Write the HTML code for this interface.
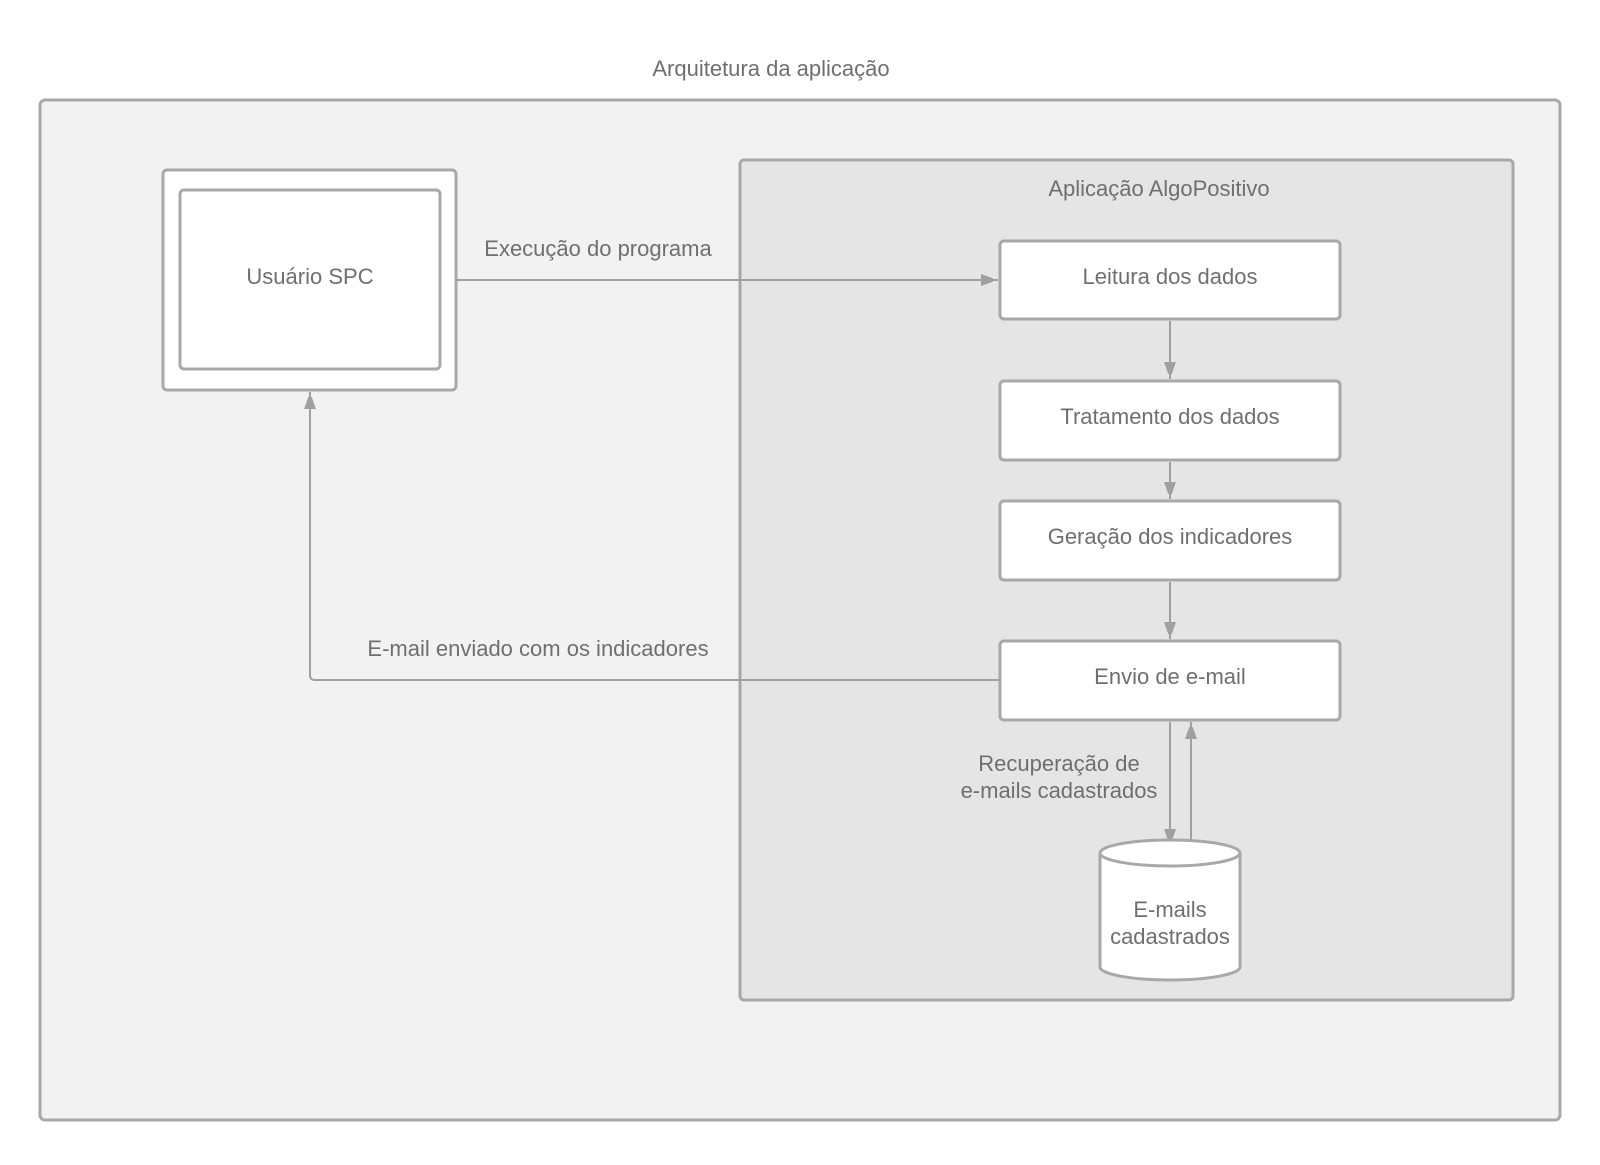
<!DOCTYPE html>
<html><head><meta charset="utf-8"><style>
html,body{margin:0;padding:0;background:#fff;}
svg text{font-family:"Liberation Sans",sans-serif;fill:#6f6f6f;font-size:22px;text-anchor:middle;}
</style></head><body>
<svg width="1600" height="1160" viewBox="0 0 1600 1160" xmlns="http://www.w3.org/2000/svg">
<defs>
<marker id="b" markerWidth="12" markerHeight="18" refX="17" refY="6" orient="auto" markerUnits="userSpaceOnUse"><path d="M0,0 L17,6 L0,12 z" fill="#a0a0a0"/></marker></defs>
<text x="771" y="76">Arquitetura da aplicação</text>
<rect x="40" y="100" width="1520" height="1020" rx="5" fill="#f2f2f2" stroke="#a8a8a8" stroke-width="3"/>
<rect x="740" y="160" width="773" height="840" rx="4" fill="#e5e5e5" stroke="#a8a8a8" stroke-width="3"/>
<text x="1159" y="196">Aplicação AlgoPositivo</text>
<rect x="163" y="170" width="293" height="220" rx="4" fill="#fff" stroke="#a8a8a8" stroke-width="3"/>
<rect x="180" y="190" width="260" height="179" rx="4" fill="#fff" stroke="#a8a8a8" stroke-width="3"/>
<text x="310" y="284">Usuário SPC</text>
<g fill="#fff" stroke="#a8a8a8" stroke-width="3">
<rect x="1000" y="241" width="340" height="78" rx="4"/>
<rect x="1000" y="381" width="340" height="79" rx="4"/>
<rect x="1000" y="501" width="340" height="79" rx="4"/>
<rect x="1000" y="641" width="340" height="79" rx="4"/>
</g>
<text x="1170" y="284">Leitura dos dados</text>
<text x="1170" y="424">Tratamento dos dados</text>
<text x="1170" y="544">Geração dos indicadores</text>
<text x="1170" y="684">Envio de e-mail</text>
<g stroke="#a0a0a0" stroke-width="2" fill="none">
<path d="M456 280 H998" marker-end="url(#b)"/>
<path d="M1000 680 H315 Q310 680 310 675 V392" marker-end="url(#b)"/>
<path d="M1170 321 V379" marker-end="url(#b)"/>
<path d="M1170 462 V499" marker-end="url(#b)"/>
<path d="M1170 582 V639" marker-end="url(#b)"/>
<path d="M1170 722 V846" marker-end="url(#b)"/>
<path d="M1191 840 V722" marker-end="url(#b)"/>
</g>
<text x="598" y="256">Execução do programa</text>
<text x="538" y="656">E-mail enviado com os indicadores</text>
<text x="1059" y="771">Recuperação de</text>
<text x="1059" y="798">e-mails cadastrados</text>
<path d="M1100 853 V967 A70 13 0 0 0 1240 967 V853 A70 13 0 0 0 1100 853 A70 13 0 0 0 1240 853" fill="#fff" stroke="#a8a8a8" stroke-width="3"/>
<text x="1170" y="917">E-mails</text>
<text x="1170" y="944">cadastrados</text>
</svg>
</body></html>
